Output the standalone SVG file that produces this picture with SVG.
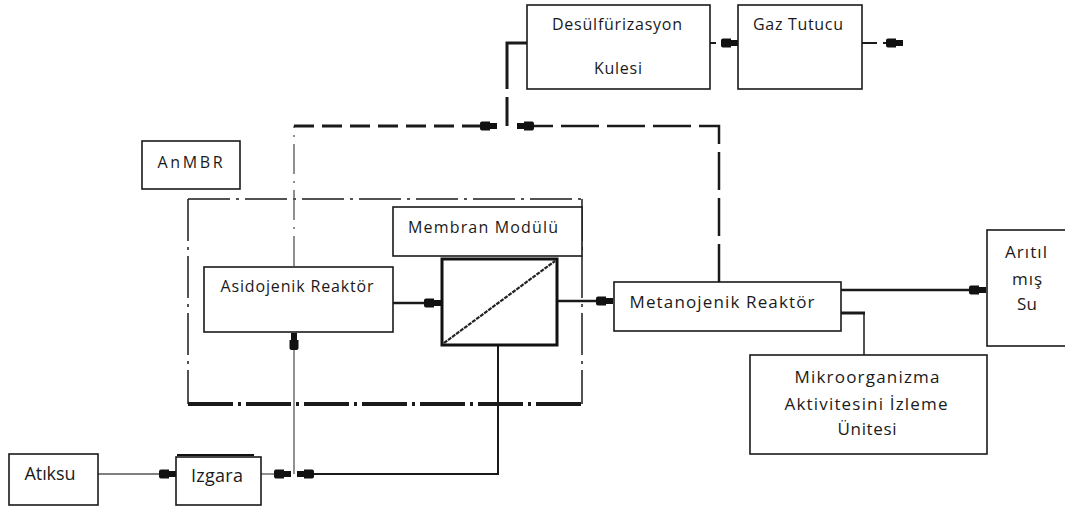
<svg xmlns="http://www.w3.org/2000/svg" width="1065" height="506" viewBox="0 0 1065 506">
  <style>
    .box { fill: #ffffff; stroke: #1a1a1a; stroke-width: 1.6; }
    .lbl { font-family: "Open Sans", "Liberation Sans", sans-serif; font-size: 16px; fill: #1a1a1a; text-anchor: middle; }
    .big { font-size: 18px; }
    .mid { font-size: 17px; }
    .ln { fill: none; stroke: #1a1a1a; }
    .thin { stroke: #555555; stroke-width: 1.3; }
  </style>
  <defs>
    <!-- plug-shaped arrowhead: wide rounded back, narrower tip -->
    <marker id="plug" markerUnits="userSpaceOnUse" viewBox="0 -5 17 10" markerWidth="17" markerHeight="10" refX="17" refY="0" orient="auto" overflow="visible">
      <path d="M2,-4.5 H10 V-3 H17 V3 H10 V4.5 H2 Q0,4.5 0,2.5 V-2.5 Q0,-4.5 2,-4.5 Z" fill="#111111"/>
    </marker>
  </defs>

  <!-- AnMBR enclosure (dash-dot frame) -->
  <g id="anmbr-frame" class="ln">
    <path d="M188,199 H582" stroke-width="1.5" stroke-dasharray="42 6 3 6"/>
    <path d="M188,199 V404" stroke-width="1.5" stroke-dasharray="42 6 3 6"/>
    <path d="M582,199 V404" stroke-width="1.5" stroke-dasharray="42 6 3 6"/>
    <path d="M188,404 H582" stroke-width="4" stroke-dasharray="45 5 3 5"/>
  </g>

  <!-- connectors -->
  <g id="connectors">
    <!-- biogas collection -->
    <path class="ln thin" d="M294,266 V126" stroke-dasharray="30 7 2 7"/>
    <path class="ln" d="M294,126 H497" stroke-width="3" stroke-dasharray="20 8" marker-end="url(#plug)"/>
    <path class="ln" d="M719,282 V126 H517" stroke-width="2.5" stroke-dasharray="38 8" marker-end="url(#plug)"/>
    <path class="ln" d="M507,126 V43 H527" stroke-width="3" stroke-dasharray="29 8 300"/>
    <path class="ln" d="M710,43 H738" stroke-width="2" stroke-dasharray="6 7 100" marker-end="url(#plug)"/>
    <path class="ln" d="M862,43 H903" stroke-width="2" stroke-dasharray="15 6 100" marker-end="url(#plug)"/>

    <!-- liquid line -->
    <path class="ln thin" d="M98,474 H176" marker-end="url(#plug)"/>
    <path class="ln thin" d="M261,474 H291" marker-end="url(#plug)"/>
    <path class="ln thin" d="M294,474 V333" marker-end="url(#plug)"/>
    <path class="ln" d="M498,346 V474 H297" stroke-width="2" marker-end="url(#plug)"/>
    <path class="ln" d="M393,303 H441" stroke-width="2.5" marker-end="url(#plug)"/>
    <path class="ln" d="M557,301 H613" stroke-width="2.5" marker-end="url(#plug)"/>
    <path class="ln" d="M841,290 H986" stroke-width="2.5" marker-end="url(#plug)"/>
    <path class="ln" d="M841,313 H865" stroke-width="3"/>
    <path class="ln" d="M864,313 V355" stroke-width="1.5"/>
  </g>

  <g id="desulfurizasyon">
    <rect class="box" x="527" y="5" width="183" height="84"/>
    <text class="lbl" x="617" y="30" textLength="130" lengthAdjust="spacing">Desülfürizasyon</text>
    <text class="lbl" x="618" y="74" textLength="48" lengthAdjust="spacing">Kulesi</text>
  </g>

  <g id="gaz-tutucu">
    <rect class="box" x="738" y="5" width="124" height="84"/>
    <text class="lbl" x="798" y="30" textLength="90" lengthAdjust="spacing">Gaz Tutucu</text>
  </g>

  <g id="anmbr-label">
    <rect class="box" x="142" y="141" width="98" height="48"/>
    <text class="lbl" x="190" y="168" textLength="65" lengthAdjust="spacing">AnMBR</text>
  </g>

  <g id="membran-label">
    <rect class="box" x="393" y="207" width="189" height="49"/>
    <text class="lbl" x="483" y="233" textLength="150" lengthAdjust="spacing">Membran Modülü</text>
  </g>

  <g id="membran">
    <rect x="442" y="259" width="115" height="86" fill="#ffffff" stroke="#111111" stroke-width="3"/>
    <path d="M444,343 L555,261" fill="none" stroke="#222222" stroke-width="2.2" stroke-dasharray="4 1"/>
  </g>

  <g id="asidojenik">
    <rect class="box" x="204" y="267" width="189" height="65"/>
    <text class="lbl" x="297" y="292" textLength="153" lengthAdjust="spacing">Asidojenik Reaktör</text>
  </g>

  <g id="metanojenik">
    <rect class="box" x="614" y="282" width="227" height="49"/>
    <text class="lbl mid" x="722" y="308" textLength="185" lengthAdjust="spacing">Metanojenik Reaktör</text>
  </g>

  <g id="aritilmis-su">
    <rect class="box" x="987" y="230" width="80" height="116"/>
    <text class="lbl mid" x="1026" y="258" textLength="42" lengthAdjust="spacing">Arıtıl</text>
    <text class="lbl mid" x="1027" y="285" textLength="30" lengthAdjust="spacing">mış</text>
    <text class="lbl mid" x="1027" y="310" textLength="20" lengthAdjust="spacing">Su</text>
  </g>

  <g id="mikroorganizma">
    <rect class="box" x="750" y="355" width="237" height="99"/>
    <text class="lbl mid" x="867" y="383" textLength="145" lengthAdjust="spacing">Mikroorganizma</text>
    <text class="lbl mid" x="866" y="410" textLength="163" lengthAdjust="spacing">Aktivitesini İzleme</text>
    <text class="lbl mid" x="867" y="435" textLength="59" lengthAdjust="spacing">Ünitesi</text>
  </g>

  <g id="atiksu">
    <rect class="box" x="9" y="454" width="89" height="51"/>
    <text class="lbl big" x="50" y="480" textLength="51" lengthAdjust="spacing">Atıksu</text>
  </g>

  <g id="izgara">
    <rect class="box" x="176" y="457" width="85" height="48"/>
    <path d="M177,455 H254" fill="none" stroke="#111111" stroke-width="2.2"/>
    <text class="lbl big" x="217" y="482" textLength="52" lengthAdjust="spacing">Izgara</text>
  </g>
</svg>
